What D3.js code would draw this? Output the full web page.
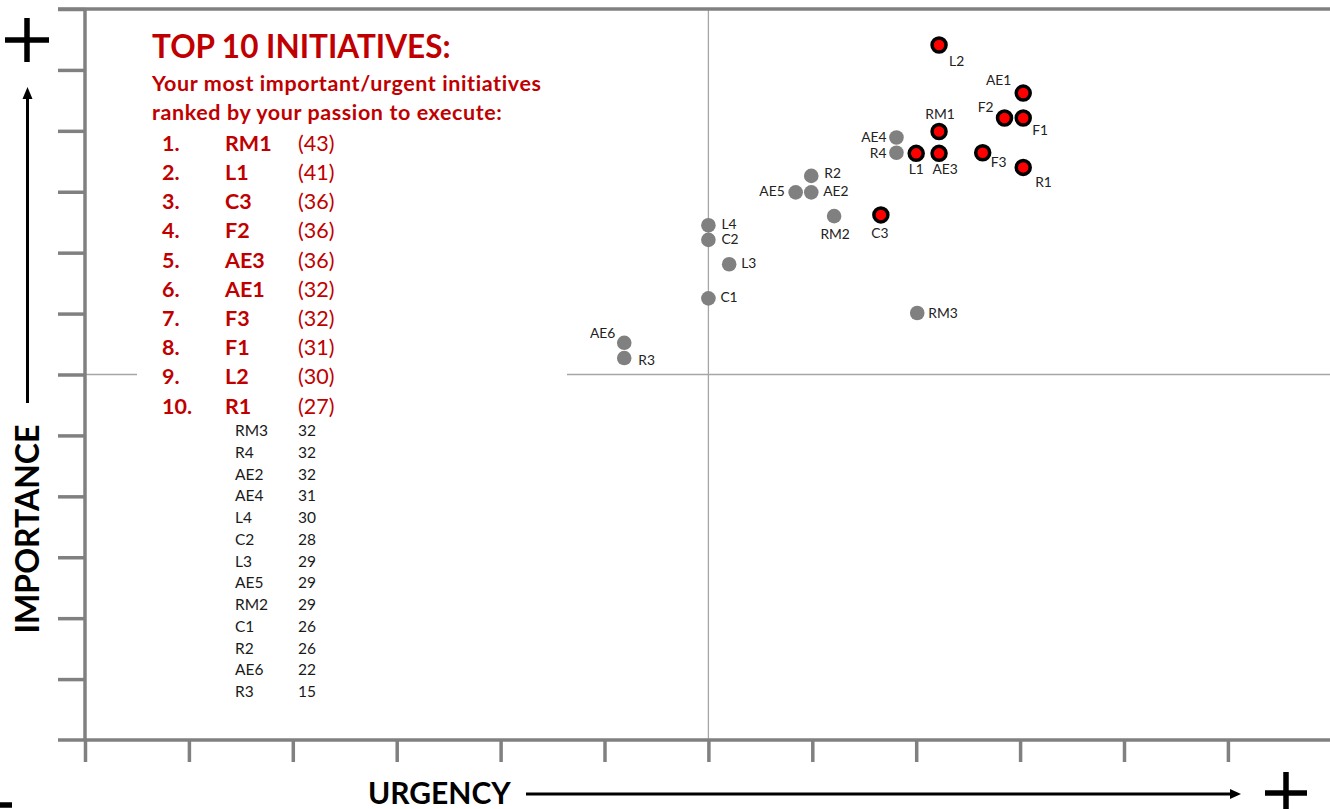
<!DOCTYPE html>
<html><head><meta charset="utf-8">
<script src="https://cdn.jsdelivr.net/npm/d3@7"></script>
<style>
body{margin:0;background:#fff;}
svg{display:block;font-family:Lato,"Open Sans",sans-serif;}
</style>
</head><body>
<svg id="chart" width="1330" height="809"></svg>
<script>
// ---------- DATA ----------
const names      = ["L2","AE1","F2","F1","RM1","AE4","R4","L1","AE3","F3","R1","R2","AE5","AE2","RM2","C3","L4","C2","L3","C1","RM3","AE6","R3"];
const urgency    = [8.22,9.03,8.85,9.03,8.22,7.81,7.81,8.00,8.22,8.64,9.03,6.99,6.84,6.99,7.21,7.66,6.00,6.00,6.20,6.00,8.01,5.19,5.19];
const importance = [11.41,10.62,10.21,10.21,9.99,9.89,9.64,9.63,9.63,9.64,9.40,9.26,8.99,8.99,8.60,8.62,8.45,8.21,7.81,7.25,7.01,6.52,6.27];

const topNames   = ["RM1","L1","C3","F2","AE3","AE1","F3","F1","L2","R1"];
const topScores  = [43,41,36,36,36,32,32,31,30,27];
const restNames  = ["RM3","R4","AE2","AE4","L4","C2","L3","AE5","RM2","C1","R2","AE6","R3"];
const restScores = [32,32,32,31,30,28,29,29,29,26,26,22,15];

const xTickValues = [0,1,2,3,4,5,6,7,8,9,10,11];
const yTickValues = [1,2,3,4,5,6,7,8,9,10,11,12];
const midValue = 6;

// label placement: [dx, dy, anchor]
const labelPlace = {
  L2:[10,21,"start"], AE1:[-12,-8,"end"], F2:[-11,-6,"end"], F1:[9,17,"start"],
  RM1:[1,-12,"middle"], AE4:[-10,4,"end"], R4:[-10,5,"end"], L1:[0,21,"middle"],
  AE3:[6,21,"middle"], F3:[8,14,"start"], R1:[12,20,"start"], R2:[13,2,"start"],
  AE5:[-11,4,"end"], AE2:[12,4,"start"], RM2:[1,23,"middle"], C3:[-1,23,"middle"],
  L4:[13,4,"start"], C2:[13,4,"start"], L3:[12,4,"start"], C1:[12,4,"start"],
  RM3:[11,5,"start"], AE6:[-9,-5,"end"], R3:[14,7,"start"]
};

// ---------- CHART ----------
const svg = d3.select("#chart");
const W = 1330;
const x = d3.scaleLinear().domain([0,12]).range([85, 85 + 12*103.9]);
const y = d3.scaleLinear().domain([0,12]).range([740, 9]);
const AX = "#808080", RED = "#c00000";

// quadrant lines
svg.append("line").attr("x1",x(midValue)).attr("x2",x(midValue)).attr("y1",y(12)).attr("y2",y(0))
  .attr("stroke","#a6a6a6").attr("stroke-width",1.3);
svg.append("line").attr("x1",x(0)).attr("x2",W).attr("y1",y(midValue)).attr("y2",y(midValue))
  .attr("stroke","#a6a6a6").attr("stroke-width",1.3);
// text box background
svg.append("rect").attr("x",137).attr("y",25).attr("width",430).attr("height",690).attr("fill","#fff");

// axes
const gy = svg.append("g").attr("transform",`translate(${x(0)},0)`)
  .call(d3.axisLeft(y).tickValues(yTickValues).tickSize(27).tickSizeOuter(0).tickFormat(""));
gy.select(".domain").remove();
gy.selectAll("line").attr("stroke",AX).attr("stroke-width",3.5);

const gx = svg.append("g").attr("transform",`translate(0,${y(0)})`)
  .call(d3.axisBottom(x).tickValues(xTickValues).tickSize(22).tickSizeOuter(0).tickFormat(""));
gx.select(".domain").remove();
gx.selectAll("line").attr("stroke",AX).attr("stroke-width",3.5);

svg.append("line").attr("x1",x(0)).attr("x2",x(0)).attr("y1",y(12)).attr("y2",y(0))
  .attr("stroke",AX).attr("stroke-width",3.5);
svg.append("line").attr("x1",58).attr("x2",W).attr("y1",y(0)).attr("y2",y(0))
  .attr("stroke",AX).attr("stroke-width",3.5);
svg.append("line").attr("x1",58).attr("x2",W).attr("y1",y(12)).attr("y2",y(12))
  .attr("stroke",AX).attr("stroke-width",3.5);

// points
const pts = names.map((n,i)=>({name:n, u:urgency[i], imp:importance[i], top: topNames.includes(n)}));
const gp = svg.append("g");
gp.selectAll("circle.g").data(pts.filter(d=>!d.top)).join("circle")
  .attr("cx",d=>x(d.u)).attr("cy",d=>y(d.imp)).attr("r",7.3).attr("fill","#808080");
gp.selectAll("circle.r").data(pts.filter(d=>d.top)).join("circle")
  .attr("cx",d=>x(d.u)).attr("cy",d=>y(d.imp)).attr("r",7).attr("fill","#ff0000")
  .attr("stroke","#000").attr("stroke-width",3.5);
gp.selectAll("text").data(pts).join("text")
  .attr("x",d=>x(d.u)+labelPlace[d.name][0]).attr("y",d=>y(d.imp)+labelPlace[d.name][1])
  .attr("text-anchor",d=>labelPlace[d.name][2])
  .attr("font-size",13.8).attr("fill","#222").text(d=>d.name);

// text block
svg.append("text").attr("x",152).attr("y",58).attr("font-size",31.5).attr("font-weight",700)
  .attr("fill",RED).text("TOP 10 INITIATIVES:");
svg.append("text").attr("x",152).attr("y",91).attr("font-size",21.5).attr("font-weight",700)
  .attr("letter-spacing",0.6).attr("fill",RED).text("Your most important/urgent initiatives");
svg.append("text").attr("x",152).attr("y",120).attr("font-size",21.5).attr("font-weight",700)
  .attr("letter-spacing",0.6).attr("fill",RED).text("ranked by your passion to execute:");

const gr = svg.append("g").attr("fill",RED).attr("font-size",21.5);
topNames.forEach((n,i)=>{
  const by = 150.7 + i*29.2;
  gr.append("text").attr("x",162).attr("y",by).attr("font-weight",700).text((i+1)+".");
  gr.append("text").attr("x",225).attr("y",by).attr("font-weight",700).text(n);
  gr.append("text").attr("x",298).attr("y",by).text("("+topScores[i]+")");
});
const go = svg.append("g").attr("fill","#1a1a1a").attr("font-size",15.5);
restNames.forEach((n,i)=>{
  const by = 436 + i*21.75;
  go.append("text").attr("x",235).attr("y",by).text(n);
  go.append("text").attr("x",298).attr("y",by).text(restScores[i]);
});

// axis titles
svg.append("text").attr("transform","translate(39,529) rotate(-90)").attr("text-anchor","middle")
  .attr("font-size",32).attr("font-weight",700).attr("fill","#000").text("IMPORTANCE");
svg.append("text").attr("x",368).attr("y",804).attr("font-size",30).attr("font-weight",700)
  .attr("fill","#000").text("URGENCY");

// arrows
svg.append("line").attr("x1",27.5).attr("x2",27.5).attr("y1",403).attr("y2",98).attr("stroke","#000").attr("stroke-width",3);
svg.append("path").attr("d","M27.5,87 L22.5,99 L32.5,99 Z").attr("fill","#000");
svg.append("line").attr("x1",526).attr("x2",1231).attr("y1",794).attr("y2",794).attr("stroke","#000").attr("stroke-width",3);
svg.append("path").attr("d","M1241,794 L1230,789 L1230,799 Z").attr("fill","#000");

// plus / minus signs
const sign = (cx,cy,h,vert)=>{
  svg.append("line").attr("x1",cx-h).attr("x2",cx+h).attr("y1",cy).attr("y2",cy).attr("stroke","#000").attr("stroke-width",5.5);
  if(vert) svg.append("line").attr("x1",cx).attr("x2",cx).attr("y1",cy-h).attr("y2",cy+h).attr("stroke","#000").attr("stroke-width",5.5);
};
sign(27,40,22,true);
sign(1286,793,21,true);
sign(0,805,12,false);
</script>
</body></html>
